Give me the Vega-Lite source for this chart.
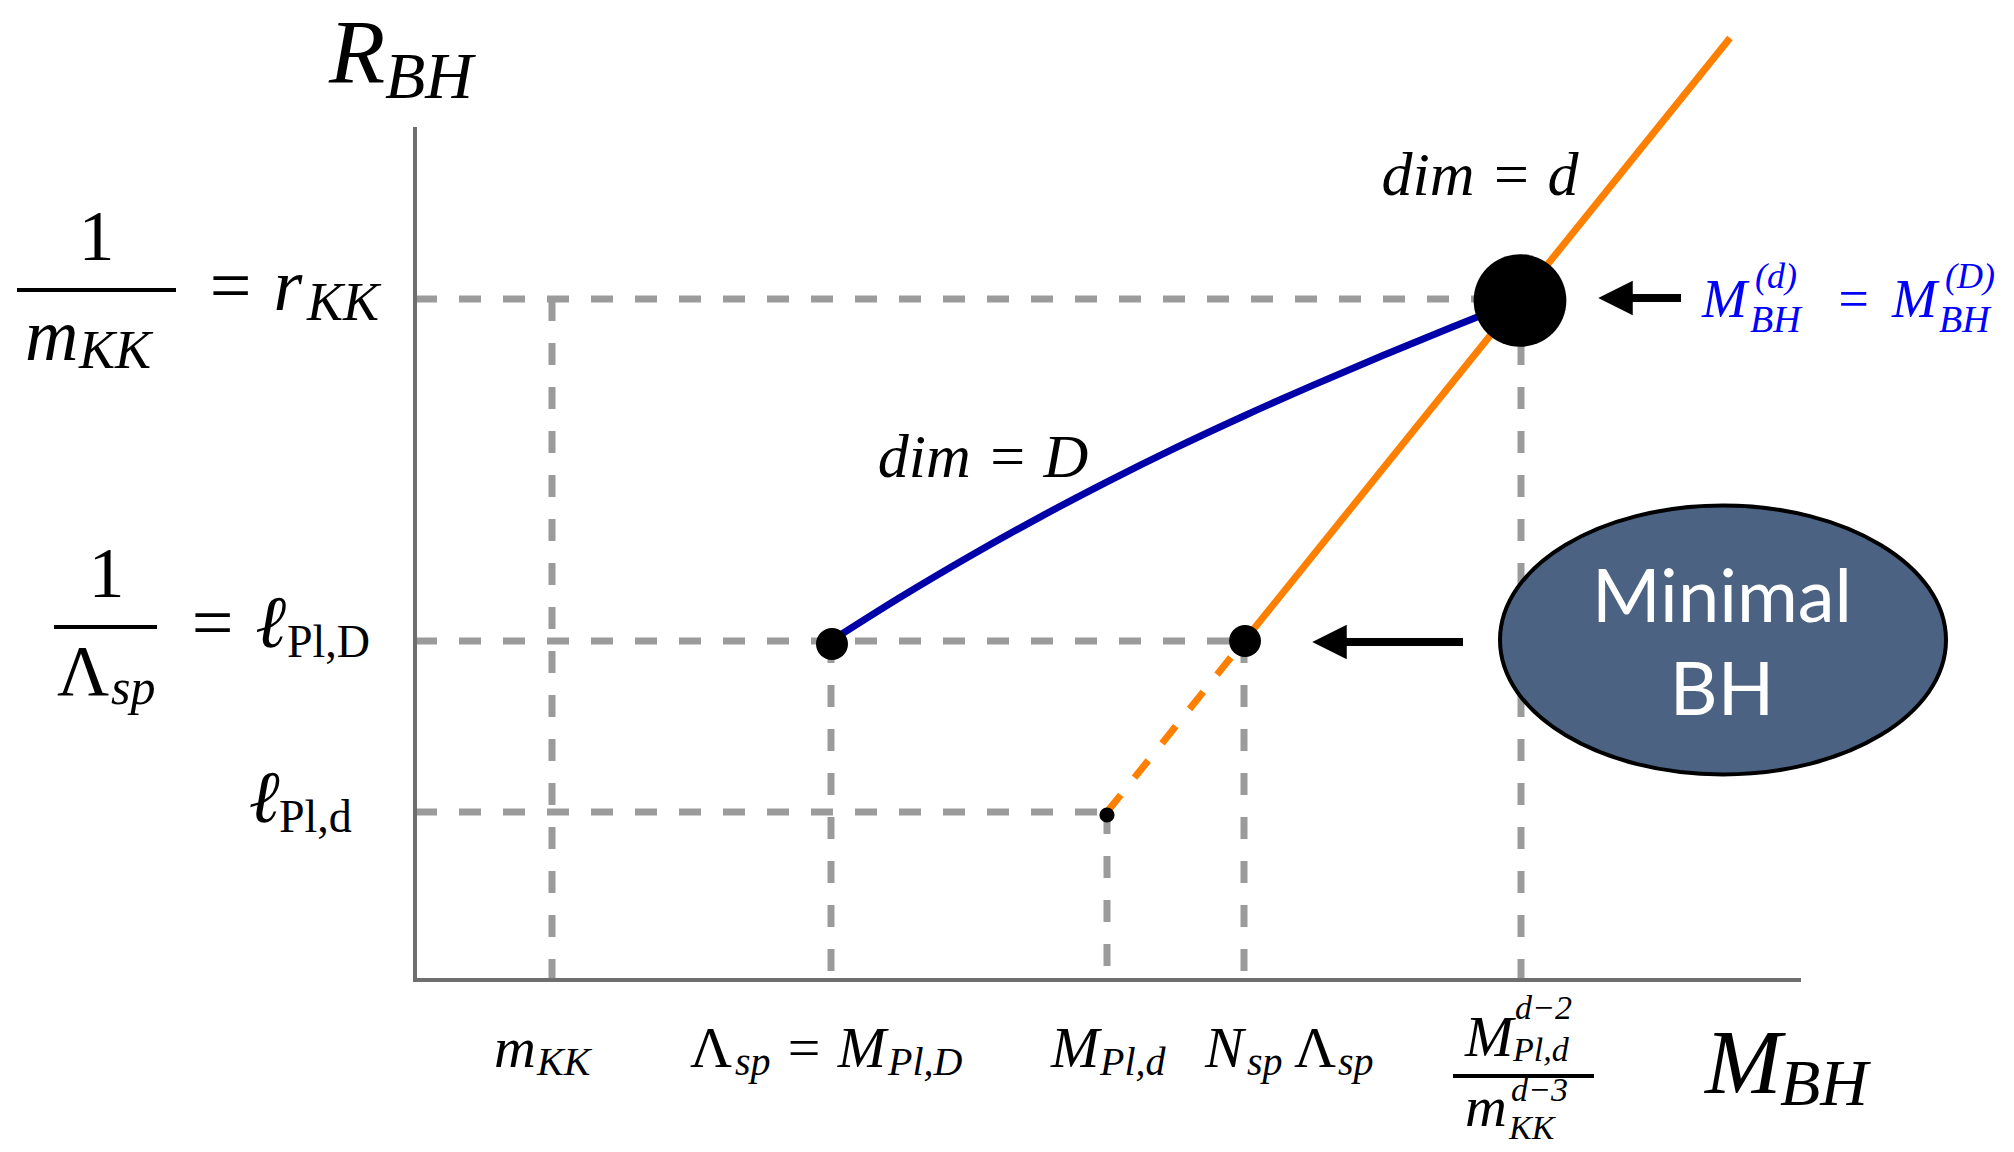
{
  "$schema": "https://vega.github.io/schema/vega-lite/v6.json",
  "width": 2014,
  "height": 1152,
  "padding": 0,
  "autosize": {"type": "none"},
  "background": "white",
  "config": {"view": {"stroke": null}},
  "encoding": {
    "x": {"field": "x", "type": "quantitative", "scale": {"domain": [-41.5, 159.9], "nice": false, "zero": false}, "axis": null},
    "y": {"field": "y", "type": "quantitative", "scale": {"domain": [-17.2, 98], "nice": false, "zero": false}, "axis": null}
  },
  "layer": [
    {
      "data": {"values": [
        {"x": 0, "y": 68.1, "x2": 110.5, "y2": 68.1},
        {"x": 0, "y": 33.9, "x2": 82.9, "y2": 33.9},
        {"x": 0, "y": 16.8, "x2": 69.2, "y2": 16.8},
        {"x": 13.7, "y": 68.1, "x2": 13.7, "y2": 0},
        {"x": 41.6, "y": 33.9, "x2": 41.6, "y2": 0},
        {"x": 69.2, "y": 16.8, "x2": 69.2, "y2": 0},
        {"x": 82.9, "y": 33.9, "x2": 82.9, "y2": 0},
        {"x": 110.6, "y": 68.1, "x2": 110.6, "y2": 0}
      ]},
      "mark": {"type": "rule", "color": "#9b9b9b", "strokeWidth": 7, "strokeDash": [22, 22]},
      "encoding": {"x2": {"field": "x2"}, "y2": {"field": "y2"}}
    },
    {
      "data": {"values": [
        {"x": 0, "y": 0, "x2": 0, "y2": 85.3},
        {"x": -0.2, "y": 0, "x2": 138.6, "y2": 0}
      ]},
      "mark": {"type": "rule", "color": "#6e6e6e", "strokeWidth": 4},
      "encoding": {"x2": {"field": "x2"}, "y2": {"field": "y2"}}
    },
    {
      "data": {"values": [
        {"x": 69.2, "y": 16.8, "x2": 82.9, "y2": 33.9}
      ]},
      "mark": {"type": "rule", "color": "#ff8000", "strokeWidth": 7, "strokeDash": [22, 22]},
      "encoding": {"x2": {"field": "x2"}, "y2": {"field": "y2"}}
    },
    {
      "data": {"values": [
        {"x": 82.9, "y": 33.9, "x2": 131.5, "y2": 94.2}
      ]},
      "mark": {"type": "rule", "color": "#ff8000", "strokeWidth": 7},
      "encoding": {"x2": {"field": "x2"}, "y2": {"field": "y2"}}
    },
    {
      "data": {"values": [
        {"x": 41.6, "y": 33.9},
        {"x": 48.49, "y": 38.24},
        {"x": 55.38, "y": 42.32},
        {"x": 62.27, "y": 46.17},
        {"x": 69.16, "y": 49.79},
        {"x": 76.05, "y": 53.21},
        {"x": 82.94, "y": 56.43},
        {"x": 89.83, "y": 59.49},
        {"x": 96.72, "y": 62.42},
        {"x": 103.61, "y": 65.25},
        {"x": 110.5, "y": 68.01}
      ]},
      "mark": {"type": "line", "color": "#0000a8", "strokeWidth": 7, "interpolate": "monotone"},
      "encoding": {}
    },
    {
      "data": {"values": [
        {"x": 41.7, "y": 33.6},
        {"x": 83.0, "y": 33.9}
      ]},
      "mark": {"type": "point", "filled": true, "color": "#000000", "opacity": 1, "shape": "circle", "size": 1020},
      "encoding": {}
    },
    {
      "data": {"values": [
        {"x": 69.2, "y": 16.5}
      ]},
      "mark": {"type": "point", "filled": true, "color": "#000000", "opacity": 1, "shape": "circle", "size": 230},
      "encoding": {}
    },
    {
      "data": {"values": [
        {"x": 110.5, "y": 67.95}
      ]},
      "mark": {"type": "point", "filled": true, "color": "#000000", "opacity": 1, "shape": "circle", "size": 8600},
      "encoding": {}
    },
    {
      "data": {"values": [
        {"x": 121.6, "y": 68.2, "x2": 126.6, "y2": 68.2},
        {"x": 93.0, "y": 33.8, "x2": 104.8, "y2": 33.8}
      ]},
      "mark": {"type": "rule", "color": "#000000", "strokeWidth": 8},
      "encoding": {"x2": {"field": "x2"}, "y2": {"field": "y2"}}
    },
    {
      "data": {"values": [
        {"x": 120.05, "y": 68.2},
        {"x": 91.45, "y": 33.8}
      ]},
      "mark": {"type": "point", "filled": true, "color": "#000000", "opacity": 1, "shape": "M-1,0L1,-1L1,1Z", "size": 1190},
      "encoding": {}
    },
    {
      "data": {"values": [
        {"x": 130.8, "y": 34.0}
      ]},
      "mark": {"type": "point", "filled": true, "fill": "#4b6283", "stroke": "#000000", "strokeWidth": 4, "opacity": 1, "size": 198916,
        "shape": "M-1,0C-1,-0.333,-0.552,-0.603,0,-0.603C0.552,-0.603,1,-0.333,1,0C1,0.333,0.552,0.603,0,0.603C-0.552,0.603,-1,0.333,-1,0Z"},
      "encoding": {}
    },
    {
      "data": {"values": [
        {"x": -39.8, "y": 69.0, "x2": -23.9, "y2": 69.0},
        {"x": -36.1, "y": 35.3, "x2": -25.8, "y2": 35.3},
        {"x": 103.8, "y": -9.6, "x2": 117.9, "y2": -9.6}
      ]},
      "mark": {"type": "rule", "color": "#000000", "strokeWidth": 4},
      "encoding": {"x2": {"field": "x2"}, "y2": {"field": "y2"}}
    },
    {
      "data": {"values": [
        {"t": "R", "x": -8.6, "y": 89.7},
        {"t": "M", "x": 129.0, "y": -11.3}
      ]},
      "mark": {"type": "text", "font": "Liberation Serif", "fontStyle": "italic", "fontSize": 92, "align": "left", "baseline": "alphabetic", "color": "#000000"},
      "encoding": {"text": {"field": "t"}}
    },
    {
      "data": {"values": [
        {"t": "BH", "x": -3.0, "y": 88.2},
        {"t": "BH", "x": 136.5, "y": -12.5}
      ]},
      "mark": {"type": "text", "font": "Liberation Serif", "fontStyle": "italic", "fontSize": 66, "align": "left", "baseline": "alphabetic", "color": "#000000"},
      "encoding": {"text": {"field": "t"}}
    },
    {
      "data": {"values": [
        {"t": "1", "x": -31.85, "y": 72.0},
        {"t": "1", "x": -30.85, "y": 38.3}
      ]},
      "mark": {"type": "text", "font": "Liberation Serif", "fontSize": 72, "align": "center", "baseline": "alphabetic", "color": "#000000"},
      "encoding": {"text": {"field": "t"}}
    },
    {
      "data": {"values": [
        {"t": "Λ", "x": -35.8, "y": 28.5}
      ]},
      "mark": {"type": "text", "font": "Liberation Serif", "fontSize": 72, "align": "left", "baseline": "alphabetic", "color": "#000000"},
      "encoding": {"text": {"field": "t"}}
    },
    {
      "data": {"values": [
        {"t": "m", "x": -39.0, "y": 62.0},
        {"t": "= r", "x": -21.0, "y": 67.0},
        {"t": "= ℓ", "x": -22.8, "y": 33.3},
        {"t": "ℓ", "x": -16.6, "y": 15.8}
      ]},
      "mark": {"type": "text", "font": "Liberation Serif", "fontStyle": "italic", "fontSize": 74, "align": "left", "baseline": "alphabetic", "color": "#000000"},
      "encoding": {"text": {"field": "t"}}
    },
    {
      "data": {"values": [
        {"t": "KK", "x": -10.8, "y": 66.0},
        {"t": "KK", "x": -33.6, "y": 61.2}
      ]},
      "mark": {"type": "text", "font": "Liberation Serif", "fontStyle": "italic", "fontSize": 54, "align": "left", "baseline": "alphabetic", "color": "#000000"},
      "encoding": {"text": {"field": "t"}}
    },
    {
      "data": {"values": [
        {"t": "sp", "x": -30.4, "y": 27.6}
      ]},
      "mark": {"type": "text", "font": "Liberation Serif", "fontStyle": "italic", "fontSize": 50, "align": "left", "baseline": "alphabetic", "color": "#000000"},
      "encoding": {"text": {"field": "t"}}
    },
    {
      "data": {"values": [
        {"t": "Pl,D", "x": -12.8, "y": 32.3},
        {"t": "Pl,d", "x": -13.6, "y": 14.8}
      ]},
      "mark": {"type": "text", "font": "Liberation Serif", "fontSize": 46, "align": "left", "baseline": "alphabetic", "color": "#000000"},
      "encoding": {"text": {"field": "t"}}
    },
    {
      "data": {"values": [
        {"t": "m", "x": 7.9, "y": -8.7},
        {"t": "= M", "x": 36.9, "y": -8.7},
        {"t": "M", "x": 63.6, "y": -8.7},
        {"t": "N", "x": 79.0, "y": -8.7},
        {"t": "M", "x": 105.0, "y": -7.6},
        {"t": "m", "x": 105.0, "y": -14.6}
      ]},
      "mark": {"type": "text", "font": "Liberation Serif", "fontStyle": "italic", "fontSize": 58, "align": "left", "baseline": "alphabetic", "color": "#000000"},
      "encoding": {"text": {"field": "t"}}
    },
    {
      "data": {"values": [
        {"t": "Λ", "x": 87.9, "y": -8.7},
        {"t": "Λ", "x": 27.5, "y": -8.7}
      ]},
      "mark": {"type": "text", "font": "Liberation Serif", "fontSize": 58, "align": "left", "baseline": "alphabetic", "color": "#000000"},
      "encoding": {"text": {"field": "t"}}
    },
    {
      "data": {"values": [
        {"t": "KK", "x": 12.2, "y": -9.5},
        {"t": "sp", "x": 32.0, "y": -9.5},
        {"t": "Pl,D", "x": 47.3, "y": -9.5},
        {"t": "Pl,d", "x": 68.5, "y": -9.5},
        {"t": "sp", "x": 83.2, "y": -9.5},
        {"t": "sp", "x": 92.3, "y": -9.5}
      ]},
      "mark": {"type": "text", "font": "Liberation Serif", "fontStyle": "italic", "fontSize": 40, "align": "left", "baseline": "alphabetic", "color": "#000000"},
      "encoding": {"text": {"field": "t"}}
    },
    {
      "data": {"values": [
        {"t": "d−2", "x": 110.0, "y": -3.9},
        {"t": "Pl,d", "x": 109.8, "y": -8.1},
        {"t": "d−3", "x": 109.6, "y": -12.1},
        {"t": "KK", "x": 109.4, "y": -15.9}
      ]},
      "mark": {"type": "text", "font": "Liberation Serif", "fontStyle": "italic", "fontSize": 34, "align": "left", "baseline": "alphabetic", "color": "#000000"},
      "encoding": {"text": {"field": "t"}}
    },
    {
      "data": {"values": [
        {"t": "dim = D", "x": 56.8, "y": 50.3},
        {"t": "dim = d", "x": 106.5, "y": 78.5}
      ]},
      "mark": {"type": "text", "font": "Liberation Serif", "fontStyle": "italic", "fontSize": 62, "align": "center", "baseline": "alphabetic", "color": "#000000"},
      "encoding": {"text": {"field": "t"}}
    },
    {
      "data": {"values": [
        {"t": "M", "x": 128.7, "y": 66.3},
        {"t": "=", "x": 142.0, "y": 66.3},
        {"t": "M", "x": 147.7, "y": 66.3}
      ]},
      "mark": {"type": "text", "font": "Liberation Serif", "fontStyle": "italic", "fontSize": 54, "align": "left", "baseline": "alphabetic", "color": "#0000ff"},
      "encoding": {"text": {"field": "t"}}
    },
    {
      "data": {"values": [
        {"t": "BH", "x": 133.5, "y": 64.8},
        {"t": "BH", "x": 152.4, "y": 64.8}
      ]},
      "mark": {"type": "text", "font": "Liberation Serif", "fontStyle": "italic", "fontSize": 38, "align": "left", "baseline": "alphabetic", "color": "#0000ff"},
      "encoding": {"text": {"field": "t"}}
    },
    {
      "data": {"values": [
        {"t": "(d)", "x": 134.0, "y": 69.2},
        {"t": "(D)", "x": 153.0, "y": 69.2}
      ]},
      "mark": {"type": "text", "font": "Liberation Serif", "fontStyle": "italic", "fontSize": 36, "align": "left", "baseline": "alphabetic", "color": "#0000ff"},
      "encoding": {"text": {"field": "t"}}
    },
    {
      "data": {"values": [
        {"t": "Minimal", "x": 130.7, "y": 35.8},
        {"t": "BH", "x": 130.7, "y": 26.5}
      ]},
      "mark": {"type": "text", "font": "Lato", "fontSize": 74, "align": "center", "baseline": "alphabetic", "color": "#ffffff"},
      "encoding": {"text": {"field": "t"}}
    }
  ]
}
